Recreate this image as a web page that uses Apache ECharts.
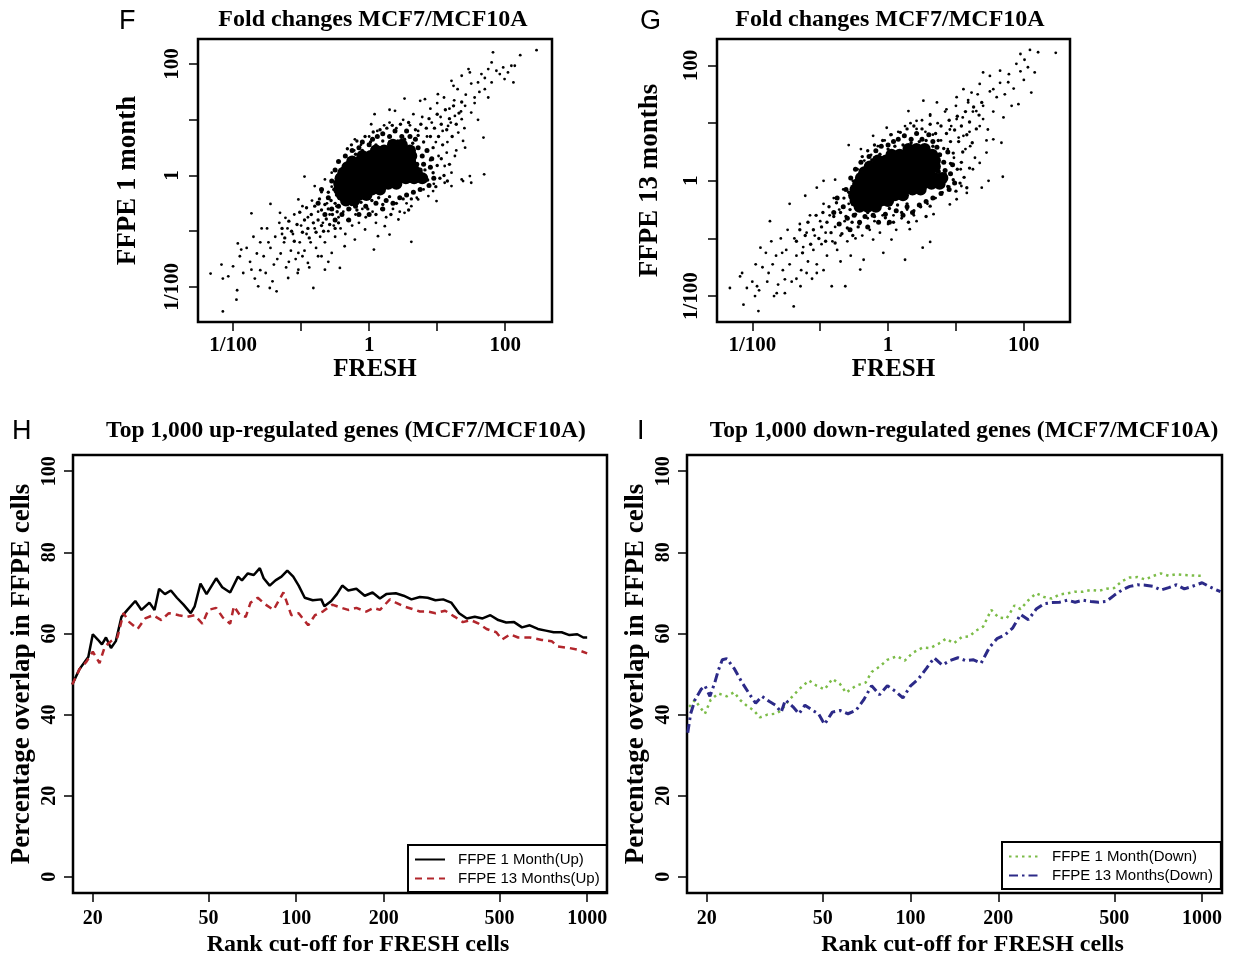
<!DOCTYPE html>
<html>
<head>
<meta charset="utf-8">
<title>Fold changes MCF7/MCF10A</title>
<script src="https://cdn.jsdelivr.net/npm/echarts@6/dist/echarts.min.js"></script>
<style>
  html, body { margin: 0; padding: 0; background: #fff; }
  #main { width: 1234px; height: 958px; }
</style>
</head>
<body>
<div id="main"></div>
<script>
// ---- panel F : log10 fold change, FRESH (x) vs FFPE 1 month (y) ----
// dense centre of the cloud (drawn with big dots so it reads as solid black)
const fCore = [
  [0.35,0.55],[0.48,0.55],
  [0.1,0.45],[0.22,0.45],[0.35,0.45],[0.48,0.45],[0.6,0.45],
  [-0.1,0.35],[0.02,0.35],[0.14,0.35],[0.26,0.35],[0.38,0.35],[0.5,0.35],[0.62,0.35],
  [-0.25,0.25],[-0.13,0.25],[0,0.25],[0.12,0.25],[0.24,0.25],[0.36,0.25],[0.48,0.25],[0.6,0.25],
  [-0.32,0.15],[-0.2,0.15],[-0.08,0.15],[0.04,0.15],[0.16,0.15],[0.28,0.15],[0.4,0.15],[0.52,0.15],[0.64,0.15],
  [-0.38,0.05],[-0.26,0.05],[-0.14,0.05],[-0.02,0.05],[0.1,0.05],[0.22,0.05],[0.34,0.05],[0.46,0.05],[0.58,0.05],[0.7,0.05],
  [-0.42,-0.05],[-0.3,-0.05],[-0.18,-0.05],[-0.06,-0.05],[0.06,-0.05],[0.18,-0.05],[0.3,-0.05],[0.42,-0.05],[0.54,-0.05],[0.66,-0.05],[0.78,-0.05],
  [-0.44,-0.15],[-0.32,-0.15],[-0.2,-0.15],[-0.08,-0.15],[0.04,-0.15],[0.16,-0.15],[0.28,-0.15],[0.4,-0.15],
  [-0.44,-0.25],[-0.32,-0.25],[-0.2,-0.25],[-0.08,-0.25],[0.04,-0.25],[0.16,-0.25],
  [-0.4,-0.35],[-0.28,-0.35],[-0.16,-0.35],[-0.04,-0.35],
  [-0.34,-0.45],[-0.22,-0.45]
];
// busy ring round the centre
const fHalo = [
  [-0.75,-0.5],[-0.7,-0.25],[-0.65,-0.7],[-0.6,-0.4],[-0.55,-0.1],[-0.55,-0.6],[-0.5,-0.8],[-0.5,0.1],
  [-0.45,-0.55],[-0.45,0.25],[-0.4,-0.7],[-0.35,0.35],[-0.3,-0.6],[-0.3,-0.8],[-0.25,0.45],[-0.2,-0.55],
  [-0.15,0.5],[-0.15,-0.7],[-0.1,0.6],[-0.05,-0.55],[0,0.55],[0,-0.7],[0.05,0.65],[0.1,-0.5],
  [0.12,0.7],[0.2,-0.6],[0.2,0.75],[0.25,-0.45],[0.3,0.7],[0.35,-0.5],[0.38,0.8],[0.45,-0.4],
  [0.48,0.7],[0.55,-0.35],[0.55,0.8],[0.6,0.7],[0.65,-0.3],[0.68,0.65],[0.72,0.5],[0.75,-0.25],
  [0.78,0.35],[0.8,0.2],[0.85,0.45],[0.88,-0.18],[0.9,0.15],[0.92,0.3],[0.95,-0.05],[0.7,0.2],
  [0.75,0.1],[0.65,0.25]
];
// crowded band along the diagonal, outside the ring
const fBand = [
  [-1.28,-0.95],[-1.24,-1.12],[-1.18,-0.82],[-1.14,-1],[-1.1,-1.18],[-1.06,-0.88],[-1.02,-0.66],[-0.98,-1.02],
  [-0.95,-0.8],[-0.92,-0.58],[-0.9,-0.95],[-0.88,-1.12],[-0.85,-0.7],[-0.82,-0.85],[-0.8,-0.55],[-0.78,-1.02],
  [-0.75,-0.8],[-0.73,-0.42],[-0.7,-0.62],[-0.7,-0.9],[-0.67,-1],[-0.65,-0.52],[-0.63,-0.78],[-0.6,-0.3],
  [-0.6,-0.6],[-0.58,-0.88],[-0.56,-0.45],[-0.54,-0.7],[-0.52,-0.25],[-0.5,-0.5],[-0.5,-0.95],[-0.48,-0.35],
  [-0.47,-0.65],[-0.45,-0.85],
  [-0.32,0.48],[-0.26,0.55],[-0.2,0.38],[-0.18,0.62],[-0.1,0.45],[-0.06,0.7],[0.02,0.6],[0.06,0.78],
  [0.1,0.55],[0.16,0.82],[0.2,0.62],[0.26,0.85],[0.3,0.6],[0.34,0.9],[0.42,0.62],[0.46,0.92],
  [0.52,0.65],[0.58,0.95],[0.64,0.58],[0.68,0.82],
  [0.72,0.72],[0.76,0.92],[0.8,0.6],[0.84,0.85],[0.88,1.02],[0.9,0.7],[0.94,0.5],[0.96,0.85],
  [1,1.1],[1.02,0.7],[1.06,0.92],[1.08,0.55],[1.12,1.18],[1.14,0.82],[1.18,1.02],[1.22,0.7],
  [1.24,1.25],[1.28,0.92],[1.32,1.12],[1.36,1.32],
  [0.82,0.1],[0.86,-0.08],[0.9,0.28],[0.94,0.05],[0.98,-0.2],[1,0.18],[1.04,-0.05],[1.06,0.3],
  [1.1,0],[1.15,-0.1],[1.18,0.2],
  [-0.26,-0.52],[-0.18,-0.62],[-0.12,-0.48],[-0.02,-0.6],[0.04,-0.45],[0.1,-0.7],[0.14,-0.4],[0.2,-0.52],
  [0.3,-0.38],[0.32,-0.7],[0.4,-0.5],[0.5,-0.42],[0.58,-0.62],[0.62,-0.42]
];
// single genes in the spread and the tails
const fDots = [
  [2.46,2.25],[1.82,2.21],[2.22,2.16],[0.52,1.38],[1.68,0.68],[1.69,0.02],[1.38,-0.1],[0.99,-0.46],
  [-2.33,-1.76],[-2.15,-2.44],[-1.95,-2.23],[-1.73,-0.68],[-1.45,-0.51],[-0.95,-0.02],
  [0.62,-1.19],[0.07,-1.33],[-0.82,-2.02],[0.3,-1.06],
  [-2.17,-1.6],[-2.15,-1.85],[-2.07,-1.81],[-1.94,-2.06],[-1.93,-1.22],[-1.88,-1.33],[-2,-1.63],
  [-1.73,-1.69],[-1.63,-1.99],[-1.46,-2.02],[-1.36,-2.08],[-1.19,-1.84],[-1.04,-1.69],[-0.65,-1.69],[-0.43,-1.66],
  [-1.31,-0.67],[-1.23,-0.76],[-1.04,-0.43],[-0.8,-0.19],[-0.65,-0.07],[-0.55,0.05],
  [-0.21,0.65],[0.08,1.1],[0.3,1.18],[0.38,1.16],[0.03,0.92],[0.75,1.34],[0.82,1.37],
  [1.01,1.46],[1.21,1.7],[1.24,1.61],[1.36,1.79],[1.46,1.91],[1.48,1.85],[1.6,1.67],[1.65,1.82],
  [1.75,1.91],[1.8,2.03],[1.87,1.88],[1.92,1.82],[1.97,1.94],[2.04,1.85],[2.09,1.97],[2.14,1.97],
  [2.12,1.67],[1.99,1.73],[1.8,1.67],[1.7,1.55],[1.55,1.4],[1.41,1.25],[1.26,1.07],[1.16,0.89],
  [1.36,1.01],[1.5,1.13],[1.31,0.77],[1.38,0.62],[1.41,0.5],[1.26,0.35],[1.14,0.41],[1.11,0.17],
  [1.21,0.05],[1.36,-0.07],[1.48,-0.01],[1.5,-0.13],[1.21,-0.19],[1.11,-0.13],[0.94,-0.28],[0.87,-0.37],
  [0.72,-0.43],[0.62,-0.55],[0.52,-0.67],[0.43,-0.79],[0.23,-0.91],[0.13,-1.09],[-0.06,-0.97],
  [-0.21,-1.15],[-0.36,-1.27],[-0.55,-1.39],[-0.75,-1.45],[-0.9,-1.57],[-1.04,-1.39],
  [-1.6,-1.2],[-1.55,-1.45],[-1.5,-0.95],[-1.45,-1.3],[-1.4,-1.6],[-1.38,-1.1],[-1.32,-0.85],[-1.3,-1.4],
  [-1.25,-1.2],[-1.22,-1.65],[-1.2,-0.95],[-1.15,-1.35],[-1.12,-1.05],[-1.1,-0.7],[-1.08,-1.5],[-1.02,-1.2],
  [-1,-0.9],[-0.98,-0.55],[-0.95,-1.35],[-0.92,-1.05],[-0.9,-0.75],[-0.86,-1.2],[-0.84,-0.45],[-0.8,-0.95],
  [-0.78,-1.3],[-0.75,-0.65],[-0.72,-1.1],[-0.7,-0.3],[-0.68,-0.85],[-0.65,-1.2],[-0.62,-0.5],[-0.6,-1],
  [-0.58,-0.7],[-0.55,-0.2],[-0.52,-0.9],[-0.5,-1.1],[-0.48,-0.55],[-0.45,-0.75],[-0.42,-0.95],[-0.4,0.1],
  [-0.38,-0.65],[-0.35,-1.05],[-0.32,-0.8],[-0.3,0.3],[-0.28,-0.6],[-0.25,-0.9],[-0.22,0.45],[-0.2,-0.7],
  [-0.15,-0.85],[-0.12,0.55],[-0.1,-0.6],[-0.05,-0.75],[0,0.7],[0.05,-0.65],[0.1,-0.85],[0.12,0.8],
  [0.18,-0.6],[0.22,0.9],[0.25,-0.75],[0.3,0.95],[0.35,-0.6],[0.4,0.85],[0.45,-0.65],[0.5,1],
  [0.55,-0.5],[0.6,0.9],[0.65,1.1],[0.7,-0.4],[0.72,0.8],[0.78,1.05],[0.8,-0.25],[0.85,0.7],
  [0.9,1.2],[0.92,0.95],[0.95,-0.15],[0.98,0.6],[1,1.3],[1.02,0.35],[1.05,1.05],[1.08,0.8],
  [1.1,1.4],[1.15,0.6],[1.18,1.2],[1.2,0.95],[1.25,1.35],[1.28,0.45],[1.3,1.55],[1.35,1.15],
  [1.4,0.85],[1.42,1.45],[1.5,1.65],[1.55,1.3],[1.6,1],[1.62,1.5],[1.7,1.75],[1.75,1.4],
  [-1.9,-1.45],[-1.85,-1.75],[-1.8,-1.3],[-1.75,-1.55],[-1.7,-1.1],[-1.68,-1.85],[-1.65,-1.4],[-1.6,-1.7],
  [-1.58,-0.95],[-1.52,-1.75],[-1.48,-1.2],[-1.42,-1.9],[-1.35,-1.5],[-1.28,-1.05],[-1.18,-1.55],[-1.05,-1.75],
  [-0.98,-1.45],[-0.88,-1.65],[-0.7,-1.45],[-0.6,-1.55]
];

// ---- panel G : log10 fold change, FRESH (x) vs FFPE 13 months (y) ----
const gCore = [
  [0.3,0.55],[0.42,0.55],[0.54,0.55],
  [0.05,0.45],[0.17,0.45],[0.29,0.45],[0.41,0.45],[0.53,0.45],[0.65,0.45],
  [-0.15,0.35],[-0.03,0.35],[0.09,0.35],[0.21,0.35],[0.33,0.35],[0.45,0.35],[0.57,0.35],[0.69,0.35],
  [-0.27,0.25],[-0.15,0.25],[-0.03,0.25],[0.09,0.25],[0.21,0.25],[0.33,0.25],[0.45,0.25],[0.57,0.25],[0.69,0.25],
  [-0.35,0.15],[-0.23,0.15],[-0.11,0.15],[0.01,0.15],[0.13,0.15],[0.25,0.15],[0.37,0.15],[0.49,0.15],[0.61,0.15],
  [-0.4,0.05],[-0.28,0.05],[-0.16,0.05],[-0.04,0.05],[0.08,0.05],[0.2,0.05],[0.32,0.05],[0.44,0.05],[0.56,0.05],[0.68,0.05],[0.8,0.05],
  [-0.44,-0.05],[-0.32,-0.05],[-0.2,-0.05],[-0.08,-0.05],[0.04,-0.05],[0.16,-0.05],[0.28,-0.05],[0.4,-0.05],[0.52,-0.05],[0.64,-0.05],[0.76,-0.05],
  [-0.48,-0.15],[-0.36,-0.15],[-0.24,-0.15],[-0.12,-0.15],[0,-0.15],[0.12,-0.15],[0.24,-0.15],[0.36,-0.15],[0.48,-0.15],
  [-0.5,-0.25],[-0.38,-0.25],[-0.26,-0.25],[-0.14,-0.25],[-0.02,-0.25],[0.1,-0.25],[0.22,-0.25],
  [-0.48,-0.35],[-0.36,-0.35],[-0.24,-0.35],[-0.12,-0.35],[0,-0.35],
  [-0.42,-0.45],[-0.3,-0.45],[-0.18,-0.45]
];
const gHalo = [
  [-0.8,-0.55],[-0.75,-0.3],[-0.72,-0.75],[-0.66,-0.45],[-0.62,-0.15],[-0.6,-0.65],[-0.56,-0.85],[-0.55,0.05],
  [-0.5,-0.6],[-0.48,0.2],[-0.42,-0.72],[-0.4,0.32],[-0.34,-0.62],[-0.3,-0.8],[-0.28,0.42],[-0.22,-0.6],
  [-0.18,0.52],[-0.14,-0.72],[-0.1,0.6],[-0.04,-0.58],[0,0.62],[0.02,-0.72],[0.08,0.68],[0.12,-0.52],
  [0.15,0.72],[0.22,-0.6],[0.24,0.78],[0.28,-0.45],[0.34,0.72],[0.36,-0.55],[0.42,0.82],[0.46,-0.42],
  [0.5,0.72],[0.56,-0.36],[0.6,0.8],[0.66,0.68],[0.66,-0.3],[0.72,0.58],[0.76,0.45],[0.78,-0.22],
  [0.82,0.32],[0.84,0.18],[0.88,0.5],[0.9,-0.15],[0.92,0.12],[0.95,0.28],[0.98,-0.04],[0.74,0.16],
  [0.8,-0.08],[0.7,0.02]
];
const gBand = [
  [-1.35,-1.05],[-1.3,-0.85],[-1.26,-1.25],[-1.22,-0.95],[-1.18,-0.72],[-1.14,-1.1],[-1.1,-0.85],[-1.06,-0.6],
  [-1.02,-1],[-0.98,-0.8],[-0.96,-0.55],[-0.92,-1.05],[-0.9,-0.72],[-0.87,-0.45],[-0.84,-0.9],[-0.8,-0.62],
  [-0.78,-1.08],[-0.76,-0.38],[-0.73,-0.75],[-0.7,-0.55],[-0.68,-0.92],[-0.65,-0.3],[-0.62,-0.62],[-0.6,-0.82],
  [-0.58,-0.2],[-0.56,-0.5],[-0.53,-0.72],[-0.52,-0.95],[-0.5,-0.38],[-0.48,-0.58],[-0.46,-0.1],[-0.44,-0.8],
  [-0.38,0.42],[-0.3,0.52],[-0.24,0.36],[-0.2,0.62],[-0.12,0.46],[-0.08,0.7],[0,0.55],[0.04,0.8],
  [0.1,0.6],[0.18,0.84],[0.22,0.62],[0.28,0.9],[0.34,0.66],[0.38,0.95],[0.46,0.68],[0.5,0.9],
  [0.56,0.7],[0.62,0.98],[0.66,0.6],[0.7,0.82],
  [0.74,0.7],[0.78,0.95],[0.82,0.56],[0.86,0.82],[0.9,1.05],[0.92,0.68],[0.96,0.48],[0.98,0.88],
  [1.02,1.12],[1.04,0.68],[1.08,0.95],[1.1,0.5],[1.14,1.2],[1.16,0.8],[1.2,1.02],[1.24,0.66],
  [1.26,1.28],[1.3,0.9],[1.34,1.14],[1.38,1.36],
  [0.84,0.12],[0.88,-0.1],[0.92,0.3],[0.96,0.02],[1,-0.18],[1.02,0.2],[1.06,-0.04],[1.08,0.32],
  [1.12,0.06],[1.16,-0.12],[1.2,0.22],
  [-0.3,-0.55],[-0.2,-0.62],[-0.14,-0.5],[-0.04,-0.64],[0.02,-0.48],[0.08,-0.72],[0.14,-0.42],[0.2,-0.55],
  [0.28,-0.4],[0.3,-0.72],[0.38,-0.52],[0.48,-0.45],[0.56,-0.62],[0.62,-0.44]
];
const gDots = [
  [2.47,2.22],[2.21,2.23],[2.09,2.27],[1.95,2.2],[2.01,2.1],[1.89,2.03],[2.06,1.97],[2.16,1.88],
  [2.11,1.53],[1.92,1.33],[1.82,1.3],[1.7,1.1],[1.77,1.71],[1.65,1.91],[1.5,1.82],[1.55,1.59],
  [1.4,1.88],[1.35,1.68],[1.23,1.53],[1.11,1.59],[1.01,1.45],[1.18,1.36],[1.3,1.21],[1.4,1.07],
  [1.47,0.89],[1.55,0.72],[1.67,0.66],[1.45,0.49],[1.35,0.31],[1.25,0.2],[1.38,-0.12],[1.48,0],
  [1.69,0.07],[1.16,-0.21],[1.08,-0.09],[1.01,-0.32],[0.91,-0.41],[0.86,0.03],
  [-0.58,0.62],[-0.4,0.55],[-0.22,0.78],[-0.02,0.92],[0.3,1.21],[0.52,1.39],[0.72,1.36],[0.86,1.24],
  [0.42,1.04],[0.62,1.13],[1.01,1.07],[0.91,0.89],[1.11,0.78],[1.21,0.6],
  [0.62,-1.06],[0.25,-1.37],[0.51,-1.16],[0.05,-1.02],[0.32,-0.84],[0.42,-0.7],[0.67,-0.58],[-0.07,-1.25],
  [-0.22,-1.02],[-0.36,-1.37],[-0.41,-1.54],[-0.63,-1.83],[-0.83,-1.83],[-1.05,-1.6],
  [-2.33,-1.86],[-2.15,-1.6],[-2.13,-2.15],[-1.91,-2.26],[-1.88,-1.16],[-1.74,-0.7],[-1.45,-0.4],[-1.39,-2.18],
  [-2.18,-1.66],[-2.08,-1.86],[-1.96,-2],[-1.93,-1.83],[-1.76,-1.6],[-1.64,-1.95],[-1.52,-1.71],[-1.56,-1.25],
  [-1.29,-1.83],[-1.2,-1.6],[-1.22,-0.26],[-1.05,-0.12],[-0.95,0],[-0.78,0.02],
  [-1.85,-1.5],[-1.8,-1.25],[-1.78,-1.75],[-1.72,-1.05],[-1.7,-1.45],[-1.65,-1.3],[-1.62,-1.8],[-1.58,-1],
  [-1.55,-1.55],[-1.5,-1.2],[-1.48,-0.85],[-1.45,-1.45],[-1.42,-1.75],[-1.38,-1],[-1.35,-1.3],[-1.3,-0.75],
  [-1.28,-1.55],[-1.25,-1.15],[-1.2,-0.9],[-1.18,-1.4],[-1.15,-0.6],[-1.1,-1.2],[-1.08,-0.95],[-1.05,-1.45],
  [-1,-0.7],[-0.98,-1.1],[-0.95,-0.4],[-0.92,-0.9],[-0.9,-1.3],[-0.86,-0.6],[-0.82,-1.05],[-0.8,-0.3],
  [-0.78,-0.8],[-0.75,-1.2],[-0.72,-0.5],[-0.7,-0.95],[-0.66,-0.15],[-0.64,-0.7],[-0.6,-1.05],[-0.58,-0.4],
  [-0.55,-0.85],[-0.52,0],[-0.5,-0.6],[-0.48,-1],[-0.45,0.2],[-0.42,-0.75],[-0.38,-0.95],[-0.35,0.35],
  [-0.3,-0.65],[-0.27,-0.85],[-0.25,0.45],[-0.2,-0.7],[-0.15,0.6],[-0.12,-0.9],[-0.08,-0.6],[-0.05,0.7],
  [0,-0.75],[0.05,0.8],[0.08,-0.6],[0.12,-0.85],[0.15,0.85],[0.2,-0.65],[0.25,0.95],[0.28,-0.5],
  [0.33,1],[0.38,-0.6],[0.42,0.9],[0.48,-0.45],[0.5,1.05],[0.55,0.85],[0.58,-0.4],[0.62,1.15],
  [0.66,0.8],[0.7,-0.3],[0.73,1],[0.78,0.7],[0.8,-0.2],[0.84,1.2],[0.88,0.55],[0.9,-0.1],
  [0.93,0.95],[0.97,0.4],[1,1.3],[1.04,0.75],[1.07,0.2],[1.1,1.1],[1.14,0.55],[1.18,1.4],
  [1.2,0.85],[1.25,1.2],[1.28,0.4],[1.32,1.5],[1.35,0.95],[1.4,1.3],[1.45,0.7],[1.5,1.55],
  [1.55,1.2],[1.6,1.45],[1.65,1.7],[1.72,1.5],[1.78,1.85],[1.85,1.6],[1.95,1.9],[2,1.75],
  [-2,-1.75],[-1.95,-1.45],[-1.9,-1.9],[-1.68,-2],[-1.52,-1.95],[-1.35,-1.7],[-1.12,-1.7],[-0.95,-1.55],
  [-0.7,-1.4],[-0.55,-1.3]
];

// ---- panel H : % overlap vs rank cut-off, up-regulated ----
const up1Month = [
  [17,47.4],[18,51.2],[19.3,54.2],[20,59.8],[20.8,58.5],[21.5,57.3],[22.2,59],[23.1,56.4],[24,58.1],
  [25.1,64.1],[26.3,65.8],[28,68],[29.4,65.8],[31.3,67.6],[32.6,65.8],[33.8,71],[35.4,69.7],[37.1,70.6],
  [38.9,68.8],[41,67.1],[43.4,65],[44.8,66.7],[46.9,72.3],[49.2,69.7],[53.1,73.6],[55.7,71.4],[59.3,70.1],
  [63.1,74],[65.1,73.1],[68.2,74.8],[71.5,74.4],[75,76.1],[77.3,73.6],[81.1,71.8],[84.9,73.1],[89,74],
  [93.2,75.5],[97.7,74],[102,71.8],[107,68.8],[114,68.2],[122,68.4],[125,66.7],[132,68],[138,69.7],
  [144,71.8],[151,70.6],[161,71],[172,69.3],[183,70.1],[194,68.6],[204,69.7],[220,69.9],[234,69.3],
  [249,68.4],[266,69],[283,68.8],[301,68.2],[320,68.4],[341,67.6],[363,65],[386,63.7],[411,64.1],
  [437,63.7],[465,64.5],[495,63.3],[527,62.7],[561,62.8],[597,61.5],[635,62],[677,61.1],[721,60.7],
  [767,60.3],[817,60.3],[869,59.6],[925,59.8],[970,59],[1000,59]
];
const up13Months = [
  [17,47.4],[18,51.2],[19,53],[20,55.5],[21.1,52.7],[22,56.8],[23.1,58.1],[24.3,59],[25.5,65],
  [26.7,62.8],[28.5,61.1],[30.3,63.7],[32.2,64.5],[34.4,63.3],[36.5,65],[39.5,64.5],[42.1,64.1],[44.8,64.5],
  [47.6,62.4],[49.9,65.8],[53.1,66.3],[56,63.9],[59.3,62.4],[61.1,66.7],[64.1,64.5],[67.1,64.1],[69.7,67.6],
  [73.8,68.8],[78.5,67.1],[83.6,65.8],[87.6,68.4],[90.4,70.1],[96.2,64.5],[102,65],[110,62],[116,64.5],
  [123.5,65.4],[133,67.1],[142,66.4],[151,65.8],[161,66.3],[174,65.4],[185,66.3],[194,65.8],[210,68.4],
  [220,67.6],[234,66.7],[249,66.1],[266,65.4],[283,65.4],[301,65],[325,65.6],[351,64.1],[374,62.8],
  [398,63.3],[424,62.4],[451,61.1],[487,60.3],[510,58.5],[544,59.8],[579,59],[635,59],[698,58.4],
  [755,58.1],[791,56.8],[869,56.4],[925,56],[1000,55.1]
];

// ---- panel I : % overlap vs rank cut-off, down-regulated ----
const down1Month = [
  [17.4,41.9],[18.2,43.6],[19.1,41.5],[19.7,40.2],[20.6,43.6],[21.9,45.2],[23.4,44.5],[24.8,45.5],[26,43.6],
  [27.3,42.3],[29,41],[30.4,39.3],[32.3,40],[34.4,40.2],[36,41],[38.3,43.6],[41.4,46.2],[44.8,48.4],
  [47.6,47.1],[50.7,46.2],[53.9,48.8],[57.3,47.5],[60,45.4],[64.9,47.1],[70.1,47.9],[73.5,50.5],[78.2,51.8],
  [83.2,53.5],[89.8,54.4],[95.5,53.3],[101.6,55.2],[109.8,56.5],[116.8,56.4],[124.4,57.4],[132.3,58.7],
  [140.8,57.6],[149.8,59.1],[159.4,59.3],[166.9,60.6],[177.4,61.7],[189,65.8],[200.8,63.9],[213.6,63.7],
  [227.2,66.9],[238.4,66],[253.5,68.2],[269.6,69.9],[286.7,69],[305,68.6],[324.3,69.6],[345,69.9],
  [366.9,70.3],[390.2,70.3],[415,70.7],[441.4,70.5],[469.4,71],[499.2,71.2],[530.9,72.9],[564.6,73.8],
  [600.5,73.9],[638.6,73.3],[679.2,74.2],[722.3,74.8],[768.2,74.2],[817,74.6],[868.9,74.4],[924.1,74.3],
  [1000,74.2]
];
const down13Months = [
  [17.2,35.5],[17.6,40.2],[18.2,43.6],[19.1,46.2],[19.7,47.1],[20.5,44.5],[21.3,47.9],[21.9,50.9],[22.6,53.5],
  [23.4,53.8],[24.8,51.4],[26.4,47.9],[28.1,44.9],[29.4,42.8],[30.9,44.5],[32.8,43.2],[34.4,42.3],[36,40.6],
  [37.2,43.6],[39.5,41.9],[41.4,40.2],[43.4,42.3],[46.2,41],[48.3,40.2],[50.7,37.6],[53.9,40.6],[57.3,41],
  [61,40.2],[64.9,41],[69,43.6],[73.5,47.1],[78.2,44.9],[83.2,47.1],[88.5,45.8],[94.1,44.1],[100,47.1],
  [106.4,48.8],[113.3,51.4],[120.5,54],[128.3,52.2],[136.5,53.3],[145.3,54],[154.5,53.3],[164.4,53.5],
  [174.6,52.7],[186.2,56.5],[197.8,58.7],[210.4,59.6],[223.7,61.3],[238.4,64.7],[253.5,63.4],[269.6,66],
  [286.7,67.3],[305,67.6],[324.3,67.7],[345,68.2],[366.9,67.7],[390.2,68.2],[415,67.9],[441.4,67.7],
  [469.4,67.9],[499.2,69.4],[530.9,70.7],[564.6,71.6],[600.5,72],[638.6,71.9],[679.2,71.6],[722.3,70.7],
  [768.2,71.3],[817,72],[868.9,71],[924.1,71.6],[1000,72.5],[1054,71.6],[1156,70.3]
];

// tick positions / labels
const foldTicks = [-2, -1, 0, 1, 2];          // log10 fold change
const foldLabelAt = [-2, 0, 2];
const foldLabelText = ['1/100', '1', '100'];
const rankTicks = [20, 50, 100, 200, 500, 1000];
const pctTicks = [0, 20, 40, 60, 80, 100];

const serif = '"Liberation Serif", "Times New Roman", serif';
const sans = '"Liberation Sans", Arial, sans-serif';
const log10 = Math.log10;

const chart = echarts.init(document.getElementById('main'));

function boldText(size) {
  return { fontFamily: serif, fontWeight: 'bold', fontSize: size, color: '#000' };
}

function axisBase(gridIndex, min, max) {
  return {
    type: 'value', gridIndex: gridIndex, min: min, max: max,
    axisLine: { show: false, onZero: false },
    splitLine: { show: false },
    axisTick: { show: true, length: 9, lineStyle: { color: '#000', width: 1.5 } }
  };
}

function foldAxis(gridIndex, min, max, isY, name, nameGap) {
  const a = axisBase(gridIndex, min, max);
  a.axisTick.customValues = foldTicks;
  a.axisLabel = Object.assign(boldText(21), {
    customValues: foldLabelAt,
    formatter: v => foldLabelText[foldLabelAt.indexOf(Math.round(v))],
    margin: isY ? 15 : 13,
    rotate: isY ? 90 : 0
  });
  a.name = name;
  a.nameLocation = 'middle';
  a.nameGap = nameGap;
  a.nameRotate = isY ? 90 : 0;
  a.nameTextStyle = boldText(isY ? 27 : 25);
  return a;
}

function rankAxis(gridIndex) {
  const a = axisBase(gridIndex, log10(17.1), log10(1170));
  a.axisTick.customValues = rankTicks.map(log10);
  a.axisLabel = Object.assign(boldText(20), {
    customValues: rankTicks.map(log10),
    formatter: v => String(Math.round(Math.pow(10, v))),
    margin: 16
  });
  a.name = 'Rank cut-off for FRESH cells';
  a.nameLocation = 'middle';
  a.nameGap = 40;
  a.nameTextStyle = Object.assign(boldText(24), { padding: [0, 0, 0, 36] });
  return a;
}

function pctAxis(gridIndex) {
  const a = axisBase(gridIndex, -4, 104);
  a.axisTick.customValues = pctTicks;
  a.axisLabel = Object.assign(boldText(20), { customValues: pctTicks, rotate: 90, margin: 13 });
  a.name = 'Percentage overlap in FFPE cells';
  a.nameLocation = 'middle';
  a.nameGap = 37;
  a.nameRotate = 90;
  a.nameTextStyle = boldText(27);
  return a;
}

function dots(axis, data, size) {
  return {
    type: 'scatter', xAxisIndex: axis, yAxisIndex: axis, data: data,
    symbolSize: size, itemStyle: { color: '#000', opacity: 1 }, silent: true
  };
}

function curve(axis, name, data, color, type, width) {
  return {
    type: 'line', name: name, xAxisIndex: axis, yAxisIndex: axis,
    data: data.map(d => [log10(d[0]), d[1]]),
    symbol: 'none', showSymbol: false,
    lineStyle: { color: color, width: width, type: type },
    itemStyle: { color: color }
  };
}

function panelLetter(t, x, y) {
  return { text: t, left: x, top: y, padding: 0,
    textStyle: { fontFamily: sans, fontWeight: 'normal', fontSize: 27, color: '#000' } };
}
function panelTitle(t, x, y, size) {
  return { text: t, left: x, top: y, padding: 0, textAlign: 'center', textStyle: boldText(size) };
}

function legendBox(names, left, top, padRight) {
  return {
    data: names, left: left, top: top, orient: 'vertical',
    itemWidth: 30, itemHeight: 12, itemGap: 4,
    padding: [7, padRight, 6, 6],
    borderColor: '#000', borderWidth: 2, borderRadius: 0, backgroundColor: '#fff',
    selectedMode: false,
    itemStyle: { opacity: 0, borderWidth: 0 },
    textStyle: { fontFamily: sans, fontSize: 15, color: '#000', padding: [0, 0, 0, 8] }
  };
}

const option = {
  animation: false,
  backgroundColor: '#fff',
  title: [
    panelLetter('F', 119, 8),
    panelLetter('G', 640, 8),
    panelLetter('H', 12, 418),
    panelLetter('I', 637, 418),
    panelTitle('Fold changes MCF7/MCF10A', 373, 8, 24),
    panelTitle('Fold changes MCF7/MCF10A', 890, 8, 24),
    panelTitle('Top 1,000 up-regulated genes (MCF7/MCF10A)', 346, 419, 23.5),
    panelTitle('Top 1,000 down-regulated genes (MCF7/MCF10A)', 964, 419, 23.5)
  ],
  grid: [
    { left: 198, top: 39, width: 354, height: 283, show: true, borderColor: '#000', borderWidth: 2.5, backgroundColor: 'transparent' },
    { left: 717, top: 39, width: 353, height: 283, show: true, borderColor: '#000', borderWidth: 2.5, backgroundColor: 'transparent' },
    { left: 73, top: 455, width: 534, height: 440, show: true, borderColor: '#000', borderWidth: 2.5, backgroundColor: 'transparent' },
    { left: 687, top: 455, width: 535, height: 440, show: true, borderColor: '#000', borderWidth: 2.5, backgroundColor: 'transparent' }
  ],
  xAxis: [
    foldAxis(0, -2.515, 2.687, false, 'FRESH', 34),
    foldAxis(1, -2.52, 2.68, false, 'FRESH', 34),
    rankAxis(2),
    rankAxis(3)
  ],
  yAxis: [
    foldAxis(0, -2.63, 2.45, true, 'FFPE 1 month', 56),
    foldAxis(1, -2.45, 2.46, true, 'FFPE 13 months', 53),
    pctAxis(2),
    pctAxis(3)
  ],
  legend: [
    legendBox(['FFPE 1 Month(Up)', 'FFPE 13 Months(Up)'], 408, 845, 7),
    legendBox(['FFPE 1 Month(Down)', 'FFPE 13 Months(Down)'], 1002, 842, 8)
  ],
  series: [
    dots(0, fDots, 2.8),
    dots(0, fBand, 3.4),
    dots(0, fHalo, 5),
    dots(0, fCore, 12),
    dots(1, gDots, 2.8),
    dots(1, gBand, 3.4),
    dots(1, gHalo, 5),
    dots(1, gCore, 12),
    curve(2, 'FFPE 1 Month(Up)', up1Month, '#000000', 'solid', 2.5),
    curve(2, 'FFPE 13 Months(Up)', up13Months, '#b2262c', [7, 5], 2.5),
    curve(3, 'FFPE 1 Month(Down)', down1Month, '#7cbc48', [2.5, 4], 2.5),
    curve(3, 'FFPE 13 Months(Down)', down13Months, '#2c2a88', [9, 4, 2.5, 4], 3)
  ]
};

chart.setOption(option);
</script>
</body>
</html>
